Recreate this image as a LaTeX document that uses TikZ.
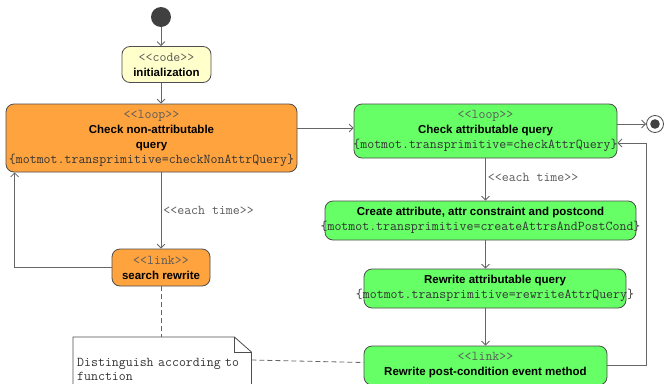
\documentclass[tikz,border=0pt]{standalone}
\usepackage{fontspec}
\newfontfamily\umlsans{Liberation Sans}
\usepackage{tikz}
\usetikzlibrary{positioning,calc,arrows.meta}

\definecolor{actorange}{HTML}{FFA33F}
\definecolor{actgreen}{HTML}{66FF66}
\definecolor{codeyellow}{HTML}{FFFFCC}
\definecolor{umlborder}{HTML}{4D4D4D}
\definecolor{umlline}{HTML}{666666}
\definecolor{stereogray}{HTML}{5A5A5A}
\definecolor{propgray}{HTML}{333333}

\newcommand{\stereo}[1]{{\ttfamily\fontsize{13.5}{15}\selectfont\color{stereogray}#1}}
\newcommand{\tprop}[1]{\makebox[0pt]{\ttfamily\fontsize{13.5}{15}\selectfont\color{propgray}#1}}
\newcommand{\actname}[1]{{\umlsans\bfseries\fontsize{11.5}{15}\selectfont #1}}

\tikzset{
  activity/.style={draw=umlborder, line width=0.8pt, rounded corners=8pt, align=center,
    inner sep=0pt, font=\fontsize{11.5}{15}\selectfont},
  flow/.style={draw=umlline, line width=0.8pt, -{Straight Barb[length=4pt,width=8pt]}},
  anchorline/.style={draw=umlline, line width=0.8pt, dashed, dash pattern=on 5pt off 3pt},
  guard/.style={font=\ttfamily\fontsize{13.5}{15}\selectfont, text=stereogray, inner sep=2pt}
}

\begin{document}
\begin{tikzpicture}[x=1pt, y=-1pt]
  \useasboundingbox (0,0) rectangle (664,383);

  % start and end
  \node[circle, fill=black!75, minimum size=20pt, inner sep=0pt] (start) at (161,17) {};
  \node[circle, draw=umlborder, line width=0.8pt, fill=white, minimum size=17pt, inner sep=0pt] (final) at (655,124) {};
  \fill[black!75] (final) circle (4.8pt);

  % left branch
  \node[activity, fill=codeyellow, minimum width=89pt, minimum height=36pt] (init) at (166.5,64.5)
    {\stereo{<<code>>}\\ \actname{initialization}};
  \node[activity, fill=actorange, minimum width=291pt, minimum height=68pt] (checknon) at (151.5,138)
    {\stereo{<<loop>>}\\ \actname{Check non-attributable}\\ \actname{query}\\
     \tprop{\{motmot.transprimitive=checkNonAttrQuery\}}};
  \node[activity, fill=actorange, minimum width=98pt, minimum height=37pt] (search) at (161,267.5)
    {\stereo{<<link>>}\\ \actname{search rewrite}};

  % right branch
  \node[activity, fill=actgreen, minimum width=263pt, minimum height=54pt] (checkattr) at (485.5,131)
    {\stereo{<<loop>>}\\ \actname{Check attributable query}\\
     \tprop{\{motmot.transprimitive=checkAttrQuery\}}};
  \node[activity, fill=actgreen, minimum width=311pt, minimum height=39pt] (create) at (480.5,220.5)
    {\actname{Create attribute, attr constraint and postcond}\\
     \tprop{\{motmot.transprimitive=createAttrsAndPostCond\}}};
  \node[activity, fill=actgreen, minimum width=262pt, minimum height=39pt] (rewriteattr) at (495,288.5)
    {\actname{Rewrite attributable query}\\
     \tprop{\{motmot.transprimitive=rewriteAttrQuery\}}};
  \node[activity, fill=actgreen, minimum width=243pt, minimum height=39pt] (postcond) at (485.5,365.5)
    {\stereo{<<link>>}\\ \actname{Rewrite post-condition event method}};

  % note
  \node[anchor=north west, minimum width=178pt, minimum height=64pt, text width=170pt,
        inner sep=4pt, align=left, font=\ttfamily\fontsize{13.5}{14}\selectfont, text=propgray] (note) at (73,337)
    {Distinguish according to\\function};
  \draw[umlborder, line width=0.8pt] (note.south west) -- (note.north west)
    -- ($(note.north east)+(-17,0)$) -- ($(note.north east)+(0,15)$) -- (note.south east);
  \draw[umlborder, line width=0.8pt] ($(note.north east)+(-17,0)$) -- ($(note.north east)+(-17,15)$)
    -- ($(note.north east)+(0,15)$);

  % flows
  \draw[flow] (start) -- (start |- init.north);
  \draw[flow] (init.south -| start) -- (checknon.north -| start);
  \draw[flow] (checknon.south -| search) -- (search.north)
    node[midway, right, guard] {<<each time>>};
  \draw[flow] (search.west) -| ($(checknon.south west)+(9,0)$);
  \draw[flow] ([yshift=10pt]checknon.east) -- ([yshift=10pt]checknon.east -| checkattr.west);
  \draw[flow] ([yshift=7pt]checkattr.east) -- (final.west);
  \draw[flow] (checkattr.south) -- (checkattr.south |- create.north)
    node[midway, right, guard, yshift=2pt] {<<each time>>};
  \draw[flow] (create.south -| checkattr.south) -- (rewriteattr.north -| checkattr.south);
  \draw[flow] (rewriteattr.south -| checkattr.south) -- (postcond.north -| checkattr.south);
  \draw[flow] (postcond.east) -- ++(39,0) |- ([yshift=-12pt]checkattr.east);

  % note anchors
  \draw[anchorline] (search.south) -- (search.south |- note.north);
  \draw[anchorline] ($(note.north east)+(0,23)$) -- ([yshift=3pt]postcond.west);
\end{tikzpicture}
\end{document}
